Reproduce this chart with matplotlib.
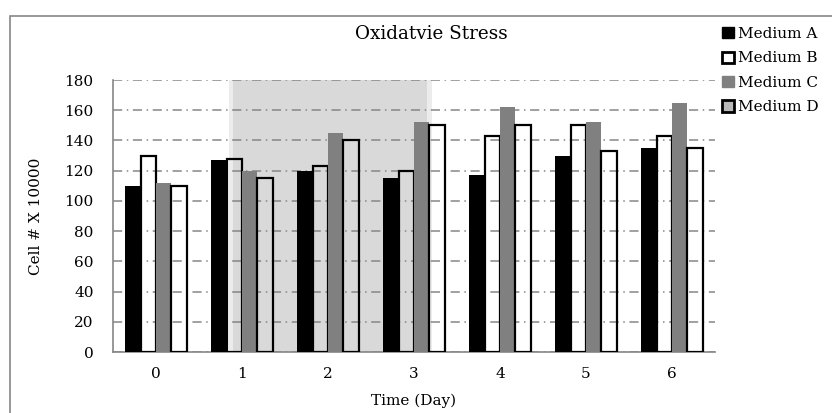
import matplotlib.pyplot as plt
import matplotlib.patches as mpatches
import numpy as np

days = ['0', '1', '2', '3', '4', '5', '6']
medium_a = [110, 127, 120, 115, 117, 130, 135]
medium_b = [130, 128, 123, 120, 143, 150, 143]
medium_c = [112, 120, 145, 152, 162, 152, 165]
medium_d = [110, 115, 140, 150, 150, 133, 135]
series_names = ['Medium A', 'Medium B', 'Medium C', 'Medium D']
yticks = [0, 20, 40, 60, 80, 100, 120, 140, 160, 180]

plt.rcParams['font.family'] = ['DejaVu Serif']
W, H = 832, 413
fig = plt.figure(figsize=(W / 100, H / 100), dpi=100)
ax = fig.add_axes([113 / W, 61 / H, 602 / W, 272 / H])

grey = '#868686'
x = np.arange(len(days))
w = 0.178

# shaded band over days 1-3, with a lighter rim on each side
ax.axvspan(0.849, 0.895, color='#ececec', zorder=0, lw=0)
ax.axvspan(0.895, 3.151, color='#d9d9d9', zorder=0, lw=0)
ax.axvspan(3.151, 3.209, color='#ececec', zorder=0, lw=0)

ax.bar(x - 1.5 * w, medium_a, w, color='black', zorder=3)
ax.bar(x - 0.5 * w, medium_b, w, facecolor='none', edgecolor='black',
       linewidth=1.6, zorder=3)
ax.bar(x + 0.5 * w, medium_c, w, color='#808080', zorder=3)
ax.bar(x + 1.5 * w, medium_d, w, facecolor='none', edgecolor='black',
       linewidth=1.6, zorder=3)

ax.set_xlim(-0.5, len(days) - 0.5)
ax.set_ylim(0, 180)
ax.set_xticks(x)
ax.set_xticklabels(days)
ax.set_yticks(yticks)
ax.tick_params(length=0, labelsize=11)
ax.tick_params(axis='x', pad=11)
ax.tick_params(axis='y', pad=14)
ax.yaxis.grid(True, color=grey, linewidth=1.1, linestyle=(0, (6, 3, 1, 3)), zorder=1)
ax.set_axisbelow(True)
for s in ['top', 'right']:
    ax.spines[s].set_visible(False)
for s in ['left', 'bottom']:
    ax.spines[s].set_color(grey)
    ax.spines[s].set_linewidth(1.2)

ax.set_xlabel('Time (Day)', fontsize=11, labelpad=9)
ax.set_ylabel('Cell # X 10000', fontsize=11, labelpad=15)
fig.text(431 / W, 1 - 34 / H, 'Oxidatvie Stress', fontsize=13.2,
         ha='center', va='center')

handles = [
    mpatches.Patch(facecolor='black', edgecolor='black'),
    mpatches.Patch(facecolor='white', edgecolor='black', linewidth=2),
    mpatches.Patch(facecolor='#808080', edgecolor='#808080'),
    mpatches.Patch(facecolor='#b8b8b8', edgecolor='black', linewidth=2),
]
fig.legend(handles, series_names, loc='upper left',
           bbox_to_anchor=(716 / W, 1 - 21 / H), frameon=False,
           fontsize=11, handlelength=0.75, handleheight=0.75,
           handletextpad=0.3, labelspacing=0.68, borderaxespad=0)

# outer chart border
fig.patches.append(mpatches.Rectangle((10 / W, -0.2), 1.2, 1.2 - 16 / H,
                                      transform=fig.transFigure, fill=False,
                                      edgecolor=grey, linewidth=1.2))

fig.savefig('out.png', dpi=100)
